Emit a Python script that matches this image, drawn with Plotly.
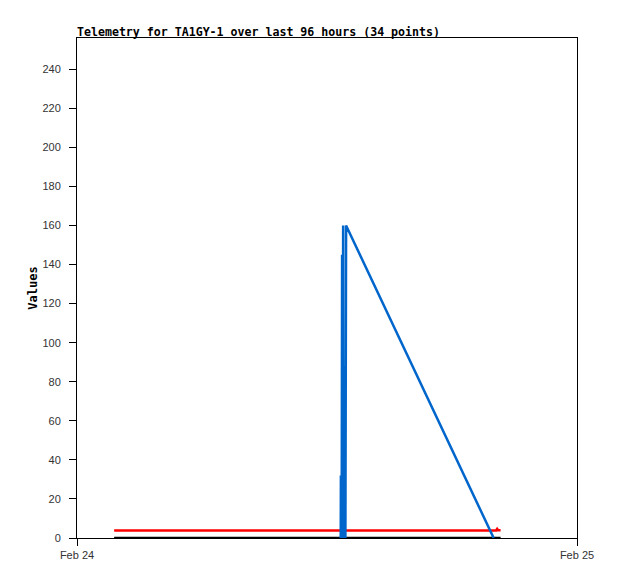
import plotly.graph_objects as go

title_text = "Telemetry for TA1GY-1 over last 96 hours (34 points)"
y_title = "Values"

# Blue series (spike then decline)
blue_times = ["2024-02-24 12:39:30", "2024-02-24 12:40:00", "2024-02-24 12:40:30", "2024-02-24 12:41:00",
              "2024-02-24 12:41:30", "2024-02-24 12:42:30", "2024-02-24 12:43:30", "2024-02-24 12:44:00",
              "2024-02-24 12:45:00", "2024-02-24 12:46:30", "2024-02-24 12:47:00", "2024-02-24 12:47:30",
              "2024-02-24 12:48:00", "2024-02-24 12:48:30", "2024-02-24 12:49:00", "2024-02-24 12:49:30",
              "2024-02-24 12:50:00", "2024-02-24 12:50:30", "2024-02-24 12:51:00", "2024-02-24 12:51:30",
              "2024-02-24 12:52:00", "2024-02-24 12:52:30", "2024-02-24 12:53:00", "2024-02-24 12:53:30",
              "2024-02-24 12:54:00", "2024-02-24 12:55:00", "2024-02-24 20:00:00"]
blue_values = [0, 32, 0, 20, 0, 30, 145, 0, 25, 160, 0, 60,
               2, 80, 0, 86, 1, 70, 0, 88, 3, 85, 0, 75,
               88, 160, 0]

# Red series (flat, small bump at end)
red_times = ["2024-02-24 01:47", "2024-02-24 12:45", "2024-02-24 20:07",
             "2024-02-24 20:10", "2024-02-24 20:13", "2024-02-24 20:20"]
red_values = [3.9, 3.9, 3.9, 4.7, 4.0, 4.0]

# Black series (zero)
black_times = ["2024-02-24 01:47", "2024-02-24 20:20"]
black_values = [0, 0]

x_tickvals = ["2024-02-24", "2024-02-25"]
x_ticktext = ["Feb 24", "Feb 25"]
y_tickvals = [0, 20, 40, 60, 80, 100, 120, 140, 160, 180, 200, 220, 240]

W, H = 610, 571

fig = go.Figure()
fig.add_trace(go.Scatter(x=black_times, y=black_values, mode="lines",
                         line=dict(color="#000000", width=2.5), showlegend=False))
fig.add_trace(go.Scatter(x=red_times, y=red_values, mode="lines",
                         line=dict(color="#FF0000", width=2.5), showlegend=False))
fig.add_trace(go.Scatter(x=blue_times, y=blue_values, mode="lines",
                         line=dict(color="#0066CC", width=2.5), showlegend=False))

fig.update_layout(
    width=W, height=H,
    margin=dict(l=69, r=41, t=30, b=41),
    paper_bgcolor="white", plot_bgcolor="white",
    title=dict(text=title_text, x=69/W, xanchor="left", y=1-23.5/H, yanchor="middle",
               font=dict(family="DejaVu Sans Mono", size=11.6, color="black", weight="bold")),
    xaxis=dict(type="date", range=["2024-02-24", "2024-02-25"],
               tickvals=x_tickvals, ticktext=x_ticktext,
               showgrid=False, zeroline=False,
               showline=True, linecolor="black", linewidth=1, mirror=True,
               ticks="outside", ticklen=7, tickcolor="black", tickwidth=1,
               tickfont=dict(family="Liberation Sans", size=11, color="#333333")),
    yaxis=dict(range=[0, 256], tickvals=y_tickvals,
               showgrid=False, zeroline=False,
               showline=True, linecolor="black", linewidth=1, mirror=True,
               ticks="outside", ticklen=7, tickcolor="black", tickwidth=1,
               ticklabelstandoff=6,
               tickfont=dict(family="Liberation Sans", size=11, color="#333333"),
               title=dict(text=y_title, standoff=2,
                          font=dict(family="DejaVu Sans Mono", size=12, color="black", weight="bold"))),
)

fig.write_html("out.html")
